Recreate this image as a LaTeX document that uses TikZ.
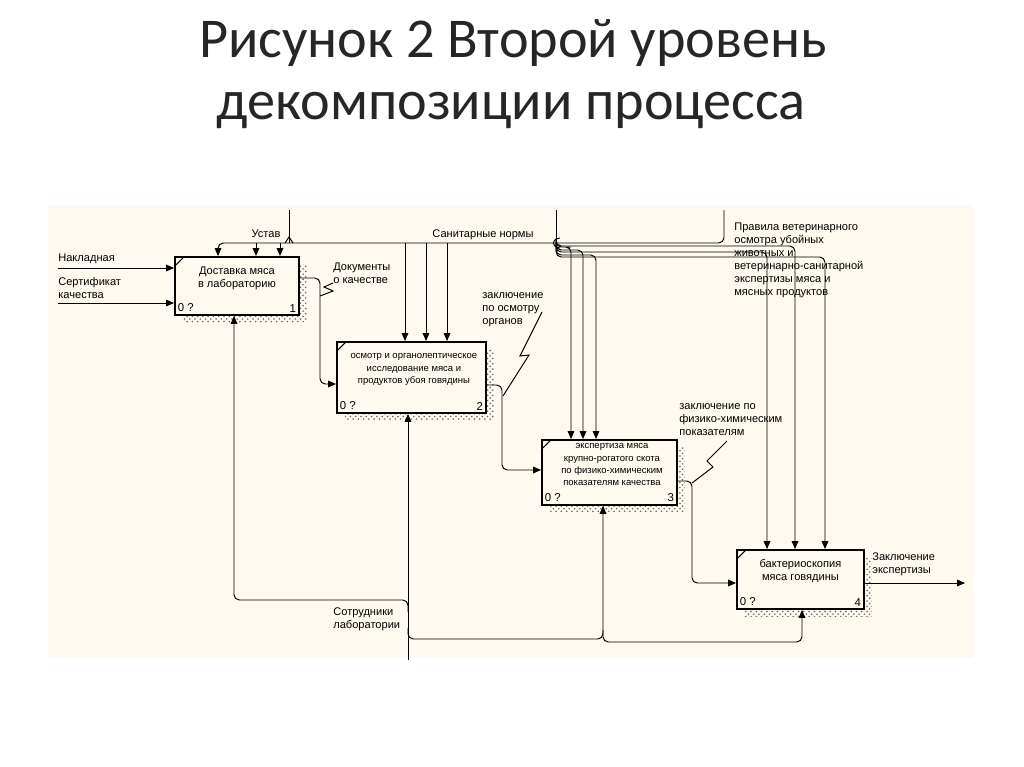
\documentclass[tikz,border=0pt]{standalone}
\usepackage{fontspec}
\setmainfont{Carlito}
\newfontfamily\diafont{Liberation Sans}
\usetikzlibrary{arrows.meta,patterns}
\definecolor{panelbg}{RGB}{254,250,240}
\tikzset{
  conn/.style={line width=0.55pt, rounded corners=3pt},
  arr/.style={conn, -{Triangle[length=4.5pt,width=3.8pt]}},
  funcbox/.style={draw, line width=1.1pt, fill=panelbg, anchor=north west, inner sep=0pt,
    preaction={draw=none, pattern=crosshatch dots, pattern color=black!60,
      transform canvas={xshift=0.16cm,yshift=-0.16cm}},
    path picture={\draw[line width=0.6pt] ([shift={(0.02cm,-0.16cm)}]path picture bounding box.north west) -- ++(0.15cm,0.15cm);}},
  boxtext/.style={font=\diafont\fontsize{6.3}{7.4}\selectfont, align=center, anchor=north, inner sep=0pt},
  smalltext/.style={boxtext, font=\diafont\fontsize{5.4}{7}\selectfont},
  boxnum/.style={font=\diafont\fontsize{6.5}{7.4}\selectfont, inner sep=2pt},
  lbl/.style={font=\diafont\fontsize{6.3}{7.4}\selectfont, align=left, inner sep=0pt, anchor=north west},
}
\begin{document}
\begin{tikzpicture}[x=0.02cm,y=-0.02cm]
\useasboundingbox (0,0) rectangle (1024,767);
\node[font=\fontsize{32}{38}\selectfont, anchor=base, text=black!85] (title1) at (513,58) {Рисунок 2 Второй уровень};
\node[font=\fontsize{32}{38}\selectfont, anchor=base, text=black!85] (title2) at (511,119) {декомпозиции процесса};
\fill[panelbg] (48,205) rectangle (973,658);

\node[funcbox, minimum width=2.48cm, minimum height=1.16cm,
  label={[boxnum, anchor=south west]south west:0 ?}, label={[boxnum, anchor=south east]south east:1}] (b1) at (174,256) {};
\node[funcbox, minimum width=2.98cm, minimum height=1.42cm,
  label={[boxnum, anchor=south west]south west:0 ?}, label={[boxnum, anchor=south east]south east:2}] (b2) at (336,341) {};
\node[funcbox, minimum width=2.70cm, minimum height=1.30cm,
  label={[boxnum, anchor=south west]south west:0 ?}, label={[boxnum, anchor=south east]south east:3}] (b3) at (541,439) {};
\node[funcbox, minimum width=2.54cm, minimum height=1.18cm,
  label={[boxnum, anchor=south west]south west:0 ?}, label={[boxnum, anchor=south east]south east:4}] (b4) at (736,549) {};

\node[boxtext] (t1) at ([yshift=-0.22cm]b1.north) {Доставка мяса\\в лабораторию};
\node[smalltext] (t2) at ([xshift=0.05cm,yshift=-0.25cm]b2.north) {осмотр и органолептическое\\исследование мяса и\\продуктов убоя говядины};
\node[smalltext] (t3) at ([xshift=0.05cm,yshift=-0.09cm]b3.north) {экспертиза мяса\\крупно-рогатого скота\\по физико-химическим\\показателям качества};
\node[boxtext] (t4) at ([yshift=-0.2cm]b4.north) {бактериоскопия\\мяса говядины};

\coordinate (nakl) at (58,268);
\coordinate (sert) at (58,303);
\coordinate (ustav) at (289,210);
\coordinate (sannorm) at (556,210);
\coordinate (pravila) at (724,210);
\coordinate (staff) at (408,660);
\coordinate (concl) at (965,583);

\draw[arr] (nakl) -- (nakl -| b1.west);
\draw[arr] (sert) -- (sert -| b1.west);
\node[lbl] (lnakl) at (58,254) {Накладная};
\node[lbl] (lsert) at (58,277) {Сертификат\\качества};

\draw[arr] (pravila) |- (218,243) -- (218,0 |- b1.north);
\draw[conn] (ustav) -- (289,243);
\draw[line width=0.55pt] (285,243) -- (289,237) -- (293,243);
\draw[conn] (sannorm) -- (556,243);
\draw[line width=0.55pt] (560,238) .. controls (551,239) and (551,247) .. (560,248);
\foreach \x in {256,280} \draw[arr] (\x,243) -- (\x,0 |- b1.north);
\foreach \x in {405,426,447} \draw[arr] (\x,243) -- (\x,0 |- b2.north);
\foreach \yy/\x in {247/571, 250/583, 255/596} \draw[arr] (556,243) |- (566,\yy) -| (\x,0 |- b3.north);
\foreach \yy/\x in {252/767, 246/795, 257/825} \draw[arr] (556,243) |- (566,\yy) -| (\x,0 |- b4.north);
\node[lbl, anchor=center] (lustav) at (266,234) {Устав};
\node[lbl, anchor=center] (lsan) at (483,235) {Санитарные нормы};
\node[lbl] (lprav) at (734,223) {Правила ветеринарного\\осмотра убойных\\животных и\\ветеринарно-санитарной\\экспертизы мяса и\\мясных продуктов};

\draw[arr] (b1.east |- 0,278) -- (320,278) -- (320,384) -- (b2.west |- 0,384);
\draw[arr] (b2.east |- 0,385) -- (502,385) -- (502,470) -- (b3.west |- 0,470);
\draw[arr] (b3.east |- 0,481) -- (692,481) -- (692,583) -- (b4.west |- 0,583);
\draw[arr] (b4.east |- 0,583) -- (concl);
\node[lbl] (ldoc) at (333,263) {Документы\\о качестве};
\draw[line width=0.55pt] (333,283) -- (324,287) -- (333,291) -- (320,296);
\node[lbl] (losm) at (482,292) {заключение\\по осмотру\\органов};
\draw[line width=0.55pt] (542,312) -- (520,356) -- (529,355) -- (503,396);
\node[lbl] (lfiz) at (679,403) {заключение по\\физико-химическим\\показателям};
\draw[line width=0.55pt] (727,441) -- (707,461) -- (713,467) -- (692,483);
\node[lbl] (lzak) at (872,552) {Заключение\\экспертизы};

\draw[arr] (staff) -- (408,0 |- b2.south);
\draw[arr] (408,612) -- (408,600) -| (234,0 |- b1.south);
\draw[arr] (408,628) -- (408,639) -| (603,0 |- b3.south);
\draw[arr] (603,630) -- (603,642) -| (802,0 |- b4.south);
\node[lbl] (lstaff) at (333,607) {Сотрудники\\лаборатории};
\end{tikzpicture}
\end{document}
